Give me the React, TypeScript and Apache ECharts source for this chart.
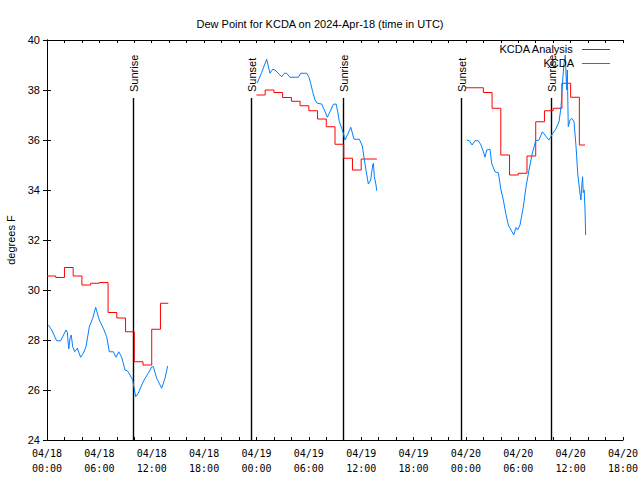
import React, { useEffect, useRef } from "react";
import * as echarts from "echarts";

// ---- data (time in hours since 2024-04-18 00:00 UTC) ----
const xTickLabels = [
  "04/18\n00:00", "04/18\n06:00", "04/18\n12:00", "04/18\n18:00",
  "04/19\n00:00", "04/19\n06:00", "04/19\n12:00", "04/19\n18:00",
  "04/20\n00:00", "04/20\n06:00", "04/20\n12:00", "04/20\n18:00",
];

const analysisDay1Hours = [0, 1, 2, 3, 4, 5, 6, 7, 8, 9, 10, 11, 12, 13, 13.9];
const analysisDay1 = [30.56, 30.5, 30.9, 30.56, 30.2, 30.27, 30.3, 29.1, 28.88, 28.33, 27.13, 27.0, 28.43, 29.47, 29.47];

const analysisDay2Hours = [24, 25, 26, 27, 28, 29, 30, 31, 32, 33, 34, 35, 36, 37, 37.8];
const analysisDay2 = [37.8, 38.0, 37.9, 37.7, 37.55, 37.37, 37.17, 36.84, 36.53, 35.83, 35.27, 34.8, 35.24, 35.24, 35.24];

const analysisDay3Hours = [48, 49, 50, 51, 52, 53, 54, 55, 56, 57, 58, 59, 60, 61, 61.65];
const analysisDay3 = [38.09, 38.09, 37.9, 37.27, 35.4, 34.6, 34.67, 35.36, 36.73, 37.17, 37.27, 38.27, 37.71, 35.8, 35.8];

const obsDay1Hours = [0.15, 0.54, 1.11, 1.57, 2.18, 2.33, 2.49, 2.64, 2.78, 2.94, 3.17, 3.47, 3.86, 4.16, 4.47, 4.85, 5.24, 5.58, 5.99, 6.45, 6.84, 7.14, 7.6, 7.91, 8.22, 8.56, 8.94, 9.2, 9.51, 9.82, 10.16, 10.46, 10.85, 11.23, 11.61, 12.0, 12.19, 12.57, 13.14, 13.52, 13.83];
const obsDay1 = [28.6, 28.4, 27.97, 27.97, 28.4, 28.3, 27.64, 28.07, 28.2, 27.73, 27.53, 27.67, 27.31, 27.47, 27.73, 28.53, 28.87, 29.31, 28.8, 28.47, 28.13, 27.53, 27.53, 27.31, 27.53, 27.31, 26.8, 26.77, 26.6, 26.4, 25.73, 25.87, 26.2, 26.47, 26.67, 26.93, 26.93, 26.47, 26.07, 26.47, 26.96];

const obsDay2Hours = [24.1, 24.6, 25.17, 25.55, 25.86, 26.13, 26.5, 26.89, 27.19, 27.46, 27.84, 28.8, 29.07, 29.76, 30.02, 30.21, 30.44, 30.71, 30.97, 31.47, 31.78, 32.12, 32.43, 32.81, 33.12, 33.31, 33.5, 33.77, 33.96, 34.15, 34.42, 34.81, 35.18, 35.79, 36.13, 36.32, 36.55, 36.82, 37.09, 37.32, 37.4, 37.51, 37.7, 37.78];
const obsDay2 = [38.29, 38.7, 39.23, 38.67, 38.83, 38.8, 38.67, 38.53, 38.67, 38.67, 38.51, 38.51, 38.67, 38.67, 38.51, 38.27, 37.93, 37.6, 37.47, 37.44, 37.2, 36.91, 37.13, 37.43, 37.44, 37.13, 36.73, 36.47, 36.27, 36.0, 36.2, 36.51, 36.03, 36.03, 35.76, 35.3, 34.8, 34.24, 34.4, 35.0, 35.07, 34.53, 34.2, 33.97];

const obsDay3Hours = [48.09, 48.4, 48.71, 49.04, 49.42, 49.73, 50.0, 50.19, 50.38, 50.76, 50.95, 51.33, 51.72, 52.02, 52.29, 52.56, 52.86, 53.17, 53.48, 53.74, 53.93, 54.2, 54.58, 54.89, 55.23, 55.61, 56.0, 56.38, 56.76, 57.14, 57.52, 57.9, 58.29, 58.67, 58.9, 59.09, 59.24, 59.39, 59.47, 59.55, 59.62, 59.73, 59.93, 60.12, 60.39, 60.62, 60.81, 61.07, 61.18, 61.3, 61.37, 61.45, 61.55, 61.65, 61.72];
const obsDay3 = [36.0, 35.97, 35.8, 35.97, 35.97, 35.8, 35.53, 35.31, 35.6, 35.63, 35.07, 34.73, 34.69, 34.0, 33.6, 33.07, 32.6, 32.4, 32.2, 32.5, 32.4, 32.6, 33.33, 34.13, 34.8, 35.47, 35.97, 36.0, 36.33, 36.16, 36.0, 36.24, 36.43, 36.73, 37.33, 38.4, 39.07, 39.4, 38.67, 38.0, 38.8, 36.53, 36.8, 36.87, 36.73, 35.73, 34.67, 33.87, 33.6, 34.27, 34.53, 33.9, 34.0, 33.2, 32.2];

const sunHours = [9.87, 23.43, 33.86, 47.4, 57.78];
const sunLabels = ["Sunrise", "Sunset", "Sunrise", "Sunset", "Sunrise"];

const seriesNames = ["KCDA Analysis", "KCDA"];
const RED = "#ff0000";
const BLUE = "#0080ff";
const SANS = "'Liberation Sans', Arial, sans-serif";
const MONO = "'DejaVu Sans Mono', 'Liberation Mono', monospace";

const zip = (xs: number[], ys: number[]) => xs.map((x, i) => [x, ys[i]]);

export default function App() {
  const ref = useRef<HTMLDivElement>(null);
  useEffect(() => {
    if (!ref.current) return;
    const chart = echarts.init(ref.current, undefined, { renderer: "svg" });

    const lineSeries = (name: string, data: number[][], color: string, step: boolean) => ({
      type: "line",
      name,
      data,
      step: step ? "end" : undefined,
      showSymbol: false,
      symbol: "none",
      lineStyle: { color, width: 1 },
      itemStyle: { color },
      z: 3,
    });

    const xAxisCommon = {
      type: "value",
      min: 0,
      max: 66,
      interval: 2,
      splitLine: { show: false },
      axisLine: { show: true, lineStyle: { color: "#000", width: 1 } },
      axisTick: { show: true, inside: true, length: 3, lineStyle: { color: "#000" } },
    };
    const yAxisCommon = {
      type: "value",
      min: 24,
      max: 40,
      interval: 2,
      splitLine: { show: false },
      axisLine: { show: true, lineStyle: { color: "#000", width: 1 } },
      axisTick: { show: true, inside: true, length: 4, lineStyle: { color: "#000" } },
    };

    chart.setOption({
      animation: false,
      backgroundColor: "#fff",
      title: {
        text: "Dew Point for KCDA on 2024-Apr-18 (time in UTC)",
        left: "center",
        top: 13,
        textStyle: { fontFamily: SANS, fontSize: 11, fontWeight: "normal", color: "#000" },
      },
      grid: {
        left: 47,
        right: 17,
        top: 40,
        bottom: 40,
        containLabel: false,
        outerBoundsMode: "none",
      },
      xAxis: [
        {
          ...xAxisCommon,
          position: "bottom",
          axisLabel: {
            show: true,
            interval: 0,
            margin: 6,
            fontFamily: MONO,
            fontSize: 10,
            lineHeight: 15,
            color: "#000",
            showMinLabel: true,
            showMaxLabel: true,
            formatter: (v: number) => (v % 6 === 0 ? xTickLabels[v / 6] : ""),
          },
        },
        { ...xAxisCommon, position: "top", axisLabel: { show: false } },
      ],
      yAxis: [
        {
          ...yAxisCommon,
          position: "left",
          name: "degrees F",
          nameLocation: "middle",
          nameRotate: 90,
          nameGap: 31,
          nameTextStyle: { fontFamily: SANS, fontSize: 11, color: "#000" },
          axisLabel: { fontFamily: SANS, fontSize: 11, color: "#000", margin: 7 },
        },
        { ...yAxisCommon, position: "right", axisLabel: { show: false } },
      ],
      series: [
        {
          type: "custom",
          name: "sun",
          data: sunHours.map((h) => [h, 24]),
          z: 2,
          renderItem: (params: any, api: any) => {
            const x = api.value(0);
            const bot = api.coord([x, 24]);
            const gridTop = api.coord([x, 40]);
            const px = Math.round(bot[0]) + 0.5;
            const yTop = gridTop[1] + 58;
            return {
              type: "group",
              children: [
                {
                  type: "line",
                  shape: { x1: px, y1: yTop, x2: px, y2: bot[1] },
                  style: { stroke: "#000", lineWidth: 1.4 },
                },
                {
                  type: "text",
                  x: px + 0.5,
                  y: yTop - 6,
                  rotation: Math.PI / 2,
                  style: {
                    text: sunLabels[params.dataIndex],
                    align: "left",
                    verticalAlign: "middle",
                    font: `11px ${SANS}`,
                    fill: "#000",
                  },
                },
              ],
            };
          },
        },
        lineSeries(seriesNames[0], zip(analysisDay1Hours, analysisDay1), RED, true),
        lineSeries(seriesNames[0], zip(analysisDay2Hours, analysisDay2), RED, true),
        lineSeries(seriesNames[0], zip(analysisDay3Hours, analysisDay3), RED, true),
        lineSeries(seriesNames[1], zip(obsDay1Hours, obsDay1), BLUE, false),
        lineSeries(seriesNames[1], zip(obsDay2Hours, obsDay2), BLUE, false),
        lineSeries(seriesNames[1], zip(obsDay3Hours, obsDay3), BLUE, false),
      ],
      graphic: {
        elements: [
          {
            id: "legText0",
            type: "text",
            right: 66,
            top: 43,
            style: { text: seriesNames[0], font: `11px ${SANS}`, fill: "#000" },
            z: 10,
          },
          {
            id: "legLine0",
            type: "rect",
            shape: { x: 582, y: 49, width: 28, height: 1 },
            style: { fill: RED },
            z: 10,
          },
          {
            id: "legText1",
            type: "text",
            right: 66,
            top: 57,
            style: { text: seriesNames[1], font: `11px ${SANS}`, fill: "#000" },
            z: 10,
          },
          {
            id: "legLine1",
            type: "rect",
            shape: { x: 582, y: 63, width: 28, height: 1 },
            style: { fill: BLUE },
            z: 10,
          },
        ],
      },
    });
    return () => chart.dispose();
  }, []);

  return (
    <div
      ref={ref}
      style={{ position: "absolute", left: 0, top: 0, width: 640, height: 480 }}
    />
  );
}
